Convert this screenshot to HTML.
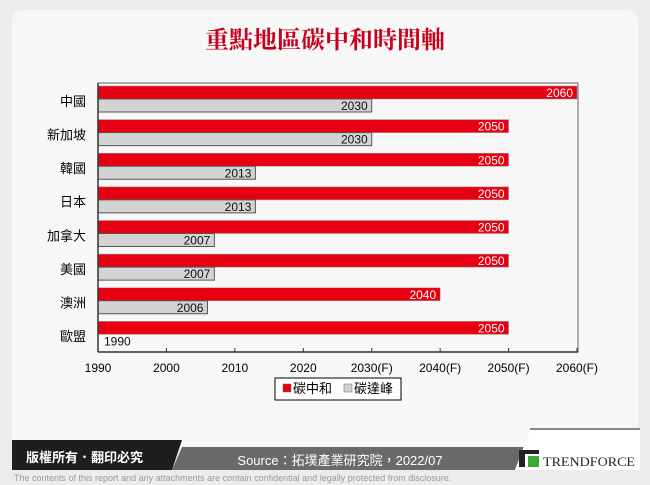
<!DOCTYPE html>
<html><head><meta charset="utf-8"><style>
body{margin:0;width:650px;height:485px;background:#ececec;position:relative;overflow:hidden;font-family:"Liberation Sans","Noto Sans CJK TC",sans-serif}
.card{position:absolute;left:12px;top:10px;width:626px;height:460px;background:#f7f7f7;border-radius:10px}
</style></head><body>
<div class="card"></div>
<svg width="650" height="485" style="position:absolute;left:0;top:0">
<text x="325" y="48" text-anchor="middle" font-size="24" font-weight="bold" fill="#c8001c" font-family="'Noto Serif CJK SC','Noto Sans CJK TC',serif">重點地區碳中和時間軸</text>
<g id="plot"></g>
<g>
<rect x="275" y="378" width="126" height="22" fill="#fff" stroke="#000"/>
<rect x="283" y="384" width="8" height="8" fill="#e60012" stroke="#666" stroke-width="0.5"/>
<text x="293" y="393" font-size="13">碳中和</text>
<rect x="344" y="384" width="8" height="8" fill="#d0d0d0" stroke="#666" stroke-width="0.5"/>
<text x="354" y="393" font-size="13">碳達峰</text>
</g>
<polygon points="12,440 182,440 172,470 12,470" fill="#1e1e1e"/>
<polygon points="182,447 525,447 515,470 172,470" fill="#6a6a6a"/>
<polygon points="530,430 640,430 640,470 515,470" fill="#fff"/>
<line x1="530" y1="429" x2="640" y2="429" stroke="#888" stroke-width="2"/>
<text x="26" y="462" font-size="13" fill="#fff" font-weight="bold">版權所有．翻印必究</text>
<text x="340" y="465" text-anchor="middle" font-size="13" fill="#fff">Source：拓墣產業研究院，2022/07</text>
<rect x="519" y="454" width="6" height="13" fill="#222"/><rect x="519" y="450" width="20" height="4" fill="#222"/>
<rect x="528" y="456" width="11" height="11" fill="#3aaa35"/>
<text x="543" y="466" font-size="13" textLength="92" lengthAdjust="spacingAndGlyphs" font-family="'Liberation Serif',serif" fill="#222">TRENDFORCE</text>
<text x="14" y="481" font-size="9" fill="#999">The contents of this report and any attachments are contain confidential and legally protected from disclosure.</text>
</svg>
<script>
const regions=["中國","新加坡","韓國","日本","加拿大","美國","澳洲","歐盟"];
const neutral=[2060,2050,2050,2050,2050,2050,2040,2050];
const peak=[2030,2030,2013,2013,2007,2007,2006,1990];
const ticks=[1990,2000,2010,2020,2030,2040,2050,2060];
const tickLabels=["1990","2000","2010","2020","2030(F)","2040(F)","2050(F)","2060(F)"];
const X0=98,X1=577,Y0=83,Y1=352,xmin=1990,xmax=2060;
const x=v=>X0+(v-xmin)/(xmax-xmin)*(X1-X0);
const band=(Y1-Y0)/regions.length;
const g=document.getElementById('plot');const NS="http://www.w3.org/2000/svg";
function mk(t,a,p){const e=document.createElementNS(NS,t);for(const k in a)e.setAttribute(k,a[k]);(p||g).appendChild(e);return e;}
mk('rect',{x:X0,y:Y0,width:X1-X0+1,height:Y1-Y0,fill:'none',stroke:'#666'});
regions.forEach((r,i)=>{
 const y=Y0+i*band;
 const lb=mk('text',{x:86,y:y+band/2+6,'text-anchor':'end','font-size':13});lb.textContent=r;
 
 
 const b1=mk('rect',{x:X0,y:y+3,width:x(neutral[i])-X0,height:13,fill:'#e60012',stroke:'#999','stroke-width':0.5});
 
 
 const t1=mk('text',{x:x(neutral[i])-4,y:y+14,'text-anchor':'end','font-size':12,fill:'#fff'});t1.textContent=neutral[i];
 
 
 const w=x(peak[i])-X0;
 if(w>0){const b2=mk('rect',{x:X0,y:y+16,width:w,height:13,fill:'#d3d3d3',stroke:'#555','stroke-width':1});
 
 }
 const t2=mk('text',{x:w>40?x(peak[i])-4:X0+6,y:y+27,'text-anchor':w>40?'end':'start','font-size':12,fill:'#111'});t2.textContent=peak[i];
 
 
});
mk('line',{x1:X0,y1:Y0,x2:X0,y2:Y1,stroke:'#333','stroke-width':1.5});
mk('line',{x1:X0,y1:Y1,x2:X1+1,y2:Y1,stroke:'#333','stroke-width':1.5});
ticks.forEach((t,i)=>{
 mk('line',{x1:x(t),y1:Y1-4,x2:x(t),y2:Y1,stroke:'#333'});
 const tl=mk('text',{x:x(t),y:Y1+20,'text-anchor':'middle','font-size':12});tl.textContent=tickLabels[i];
 
 
});
</script>
</body></html>
